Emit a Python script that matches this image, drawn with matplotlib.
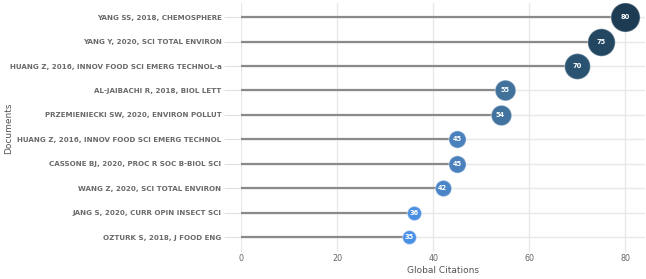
import matplotlib
matplotlib.use('Agg')
import matplotlib.pyplot as plt
import numpy as np

documents = ['YANG SS, 2018, CHEMOSPHERE',
             'YANG Y, 2020, SCI TOTAL ENVIRON',
             'HUANG Z, 2016, INNOV FOOD SCI EMERG TECHNOL-a',
             'AL-JAIBACHI R, 2018, BIOL LETT',
             'PRZEMIENIECKI SW, 2020, ENVIRON POLLUT',
             'HUANG Z, 2016, INNOV FOOD SCI EMERG TECHNOL',
             'CASSONE BJ, 2020, PROC R SOC B-BIOL SCI',
             'WANG Z, 2020, SCI TOTAL ENVIRON',
             'JANG S, 2020, CURR OPIN INSECT SCI',
             'OZTURK S, 2018, J FOOD ENG']
citations = [80, 75, 70, 55, 54, 45, 45, 42, 36, 35]
xticks = [0, 20, 40, 60, 80]

fig = plt.figure(figsize=(6.46, 2.79), dpi=100)
ax = fig.add_axes([0.373, 0.098, 0.625, 0.893])

ys = np.arange(len(documents))[::-1]

# colour scale light blue -> dark navy
cmap = matplotlib.colors.LinearSegmentedColormap.from_list(
    'cit', ['#4a90e6', '#4a7eb5', '#3d6e94', '#2b5674', '#1d3b53'])
vmin, vmax = min(citations), max(citations)

for y, v in zip(ys, citations):
    ax.plot([0, v], [y, y], color='#8a8a8a', lw=1.6, zorder=2, solid_capstyle='butt')
    d_px = 0.34 * v + 2  # bubble diameter grows with citations
    s = (d_px * 72 / 100) ** 2
    ax.scatter(v, y, s=s, color=cmap((v - vmin) / (vmax - vmin)),
               edgecolors=(1, 1, 1, 0.35), linewidths=1.0, zorder=3)
    ax.text(v, y, str(v), color='white', fontsize=4.8, fontweight='bold',
            ha='center', va='center', zorder=4)

ax.set_xlim(0, 84)
ax.set_ylim(-0.6, len(documents) - 0.4)
ax.set_xticks(xticks)
ax.set_yticks(ys)
ax.set_yticklabels(documents)

ax.grid(True, color='#e8e8e8', lw=1.0, zorder=0)
ax.set_axisbelow(True)
for sp in ax.spines.values():
    sp.set_visible(False)

ax.tick_params(axis='y', length=12, width=0.8, color='#e0e0e0', pad=2,
               labelsize=5.1, labelcolor='#6a6a6a')
ax.tick_params(axis='x', length=0, pad=2, labelsize=5.8, labelcolor='#666666')
for t in ax.get_yticklabels():
    t.set_fontweight('bold')

ax.set_xlabel('Global Citations', fontsize=6.5, color='#555555', labelpad=2)
fig.text(0.013, 0.54, 'Documents', rotation=90, fontsize=6.5, color='#555555',
         ha='center', va='center')

plt.savefig('out.png', dpi=100)
